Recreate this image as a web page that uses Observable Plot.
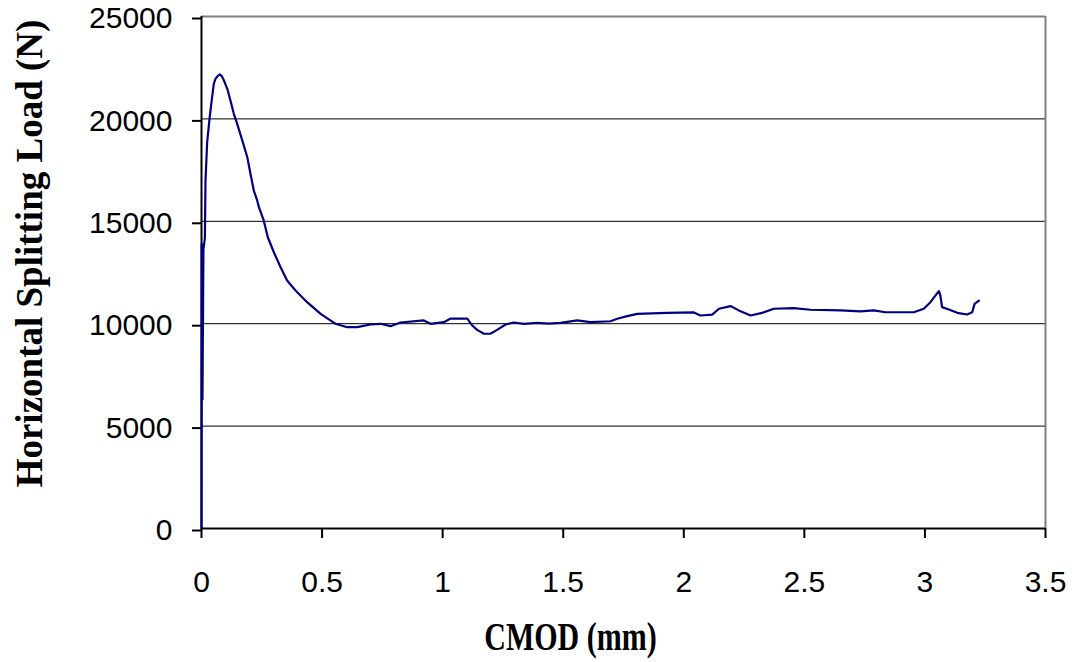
<!DOCTYPE html>
<html>
<head>
<meta charset="utf-8">
<script src="https://cdn.jsdelivr.net/npm/d3@7"></script>
<script src="https://cdn.jsdelivr.net/npm/@observablehq/plot@0.6"></script>
<style>
  html, body { margin: 0; padding: 0; background: #fff; }
</style>
</head>
<body>
<div id="chart"></div>
<script>
// CMOD (mm)
const cmod = [0, 0.001, 0.004, 0.008, 0.014, 0.0166, 0.0235, 0.034, 0.044, 0.051, 0.058, 0.068, 0.076, 0.083, 0.090,
  0.107, 0.120, 0.134, 0.148, 0.169, 0.190, 0.203, 0.217, 0.231, 0.238, 0.258, 0.275, 0.300, 0.328, 0.355, 0.390,
  0.438, 0.494, 0.556, 0.604, 0.646, 0.701, 0.742, 0.784, 0.825, 0.922, 0.950, 1.005, 1.033, 1.102, 1.123, 1.143,
  1.171, 1.198, 1.226, 1.261, 1.295, 1.337, 1.392, 1.440, 1.489, 1.558, 1.613, 1.696, 1.724, 1.765, 1.807, 1.931,
  2.042, 2.069, 2.118, 2.146, 2.194, 2.228, 2.277, 2.325, 2.373, 2.456, 2.525, 2.650, 2.733, 2.788, 2.836, 2.954,
  2.995, 3.023, 3.044, 3.058, 3.064, 3.071, 3.099, 3.134, 3.175, 3.196, 3.206, 3.224];
// Horizontal splitting load (N)
const load = [0, 13900, 6300, 13600, 14200, 16990, 18860, 20090, 21060, 21710, 21960, 22100, 22170, 22100, 21960,
  21470, 20900, 20250, 19760, 18950, 18130, 17320, 16500, 16020, 15690, 15040, 14220, 13490, 12760, 12110, 11620,
  11050, 10480, 9995, 9830, 9830, 9960, 9995, 9880, 10060, 10160, 9995, 10075, 10250, 10250, 9910, 9700,
  9510, 9510, 9700, 9960, 10060, 9995, 10040, 10000, 10040, 10160, 10075, 10120, 10240, 10370, 10480, 10530,
  10550, 10400, 10440, 10730, 10860, 10650, 10400, 10530, 10730, 10760, 10680, 10650, 10600, 10650, 10560, 10560,
  10730, 11050, 11380, 11590, 11380, 10810, 10690, 10530, 10450, 10560, 10970, 11130];

const xTicks = [0, 0.5, 1, 1.5, 2, 2.5, 3, 3.5];
const yTicks = [0, 5000, 10000, 15000, 20000, 25000];
const gridY = [5000, 10000, 15000, 20000];
const xTitle = "CMOD (mm)";
const yTitle = "Horizontal Splitting Load (N)";

const data = cmod.map((c, i) => ({cmod: c, load: load[i]}));

const sans = "'Liberation Sans', Arial, sans-serif";
const serif = "'Liberation Serif', 'Times New Roman', serif";

const chart = Plot.plot({
  width: 1076,
  height: 662,
  marginLeft: 201,
  marginRight: 31,
  marginTop: 16,
  marginBottom: 134,
  style: {background: "#fff", fontFamily: sans},
  x: {domain: [0, 3.5]},
  y: {domain: [0, 25000]},
  marks: [
    Plot.ruleY(gridY, {stroke: "#000", strokeWidth: 1}),
    Plot.ruleY([25000], {stroke: "#808080", strokeWidth: 2}),
    Plot.ruleX([3.5], {stroke: "#808080", strokeWidth: 2}),
    Plot.axisX({ticks: xTicks, tickFormat: d => String(d), tickSize: 10, tickPadding: 32,
      fontSize: 30, fontFamily: sans, stroke: "#000", strokeWidth: 2, strokeOpacity: 1, fill: "#000", label: null}),
    Plot.axisY({ticks: yTicks, tickFormat: d => String(d), tickSize: 9, tickPadding: 20, dy: 2,
      fontSize: 30, fontFamily: sans, stroke: "#000", strokeWidth: 2, strokeOpacity: 1, fill: "#000", label: null}),
    Plot.ruleY([0], {stroke: "#000", strokeWidth: 2}),
    Plot.ruleX([0], {stroke: "#000", strokeWidth: 2}),
    Plot.line(data, {x: "cmod", y: "load", stroke: "#000080", strokeWidth: 2.2}),
    Plot.text([yTitle], {text: d => d, frameAnchor: "left", dx: -171, dy: -19, rotate: -90,
      textAnchor: "middle", lineAnchor: "middle",
      fontSize: 37, fontWeight: "bold", fontFamily: serif, fill: "#000"}),
    Plot.text([xTitle], {text: d => d, frameAnchor: "bottom", dx: -53, dy: 109, className: "xtitle",
      textAnchor: "middle", lineAnchor: "middle",
      fontSize: 30, fontWeight: "bold", fontFamily: serif, fill: "#000"})
  ]
});

document.getElementById("chart").appendChild(chart);

// Stretch the x title vertically to match the reference's tall glyphs
d3.select(chart).selectAll(".xtitle text").each(function() {
  const b = this.getBBox();
  const cx = b.x + b.width / 2, cy = b.y + b.height / 2;
  const t = this.getAttribute("transform") || "";
  this.setAttribute("transform", `${t} translate(${cx},${cy}) scale(1,1.3) translate(${-cx},${-cy})`);
});
</script>
</body>
</html>
